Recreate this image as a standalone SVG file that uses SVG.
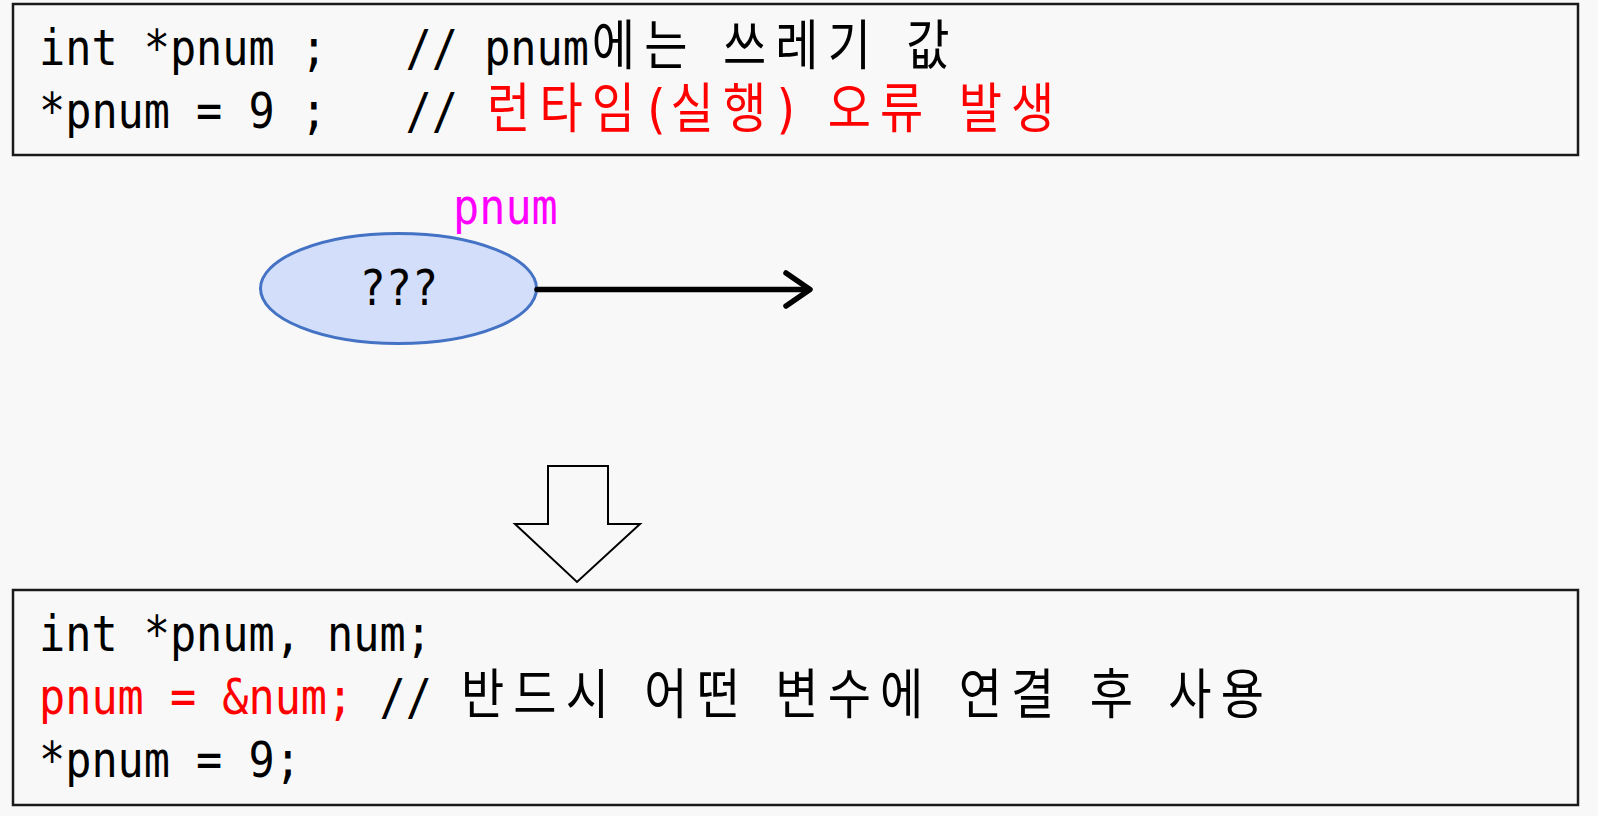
<svg xmlns="http://www.w3.org/2000/svg" width="1598" height="816" viewBox="0 0 1598 816">
<defs>
<style>
.bg{fill:#f8f8f8}
.box{fill:#f8f8f8;stroke:#1a1a1a;stroke-width:2.5}
.mono{font-family:"DejaVu Sans Mono","Liberation Mono",monospace;font-size:50px;fill:#000}
.ko{font-family:"Noto Sans CJK KR","Noto Sans CJK SC",sans-serif;font-size:54px;fill:#000}
.red{fill:#ff0000}
.mag{fill:#ff00ff}
</style>
</defs>
<rect class="bg" x="0" y="0" width="1598" height="816"/>

<g id="top-code">
<rect class="box" x="13" y="4" width="1565" height="151"/>
<text class="mono" transform="scale(0.87 1)" xml:space="preserve"><tspan x="44.83" y="65">int *pnum ;   // pnum</tspan><tspan class="ko" x="680.3 740.6 830.9 891.1 951.4 1041.7" y="65">에는쓰레기값</tspan><tspan x="44.83" y="128">*pnum = 9 ;   // </tspan><tspan class="ko red" x="559.9 620.1 680.3" y="128">런타임</tspan><tspan class="red" x="737.5" y="128" font-size="54">(</tspan><tspan class="ko red" x="770.7 830.9" y="128">실행</tspan><tspan class="red" x="888" y="128" font-size="54">)</tspan><tspan class="ko red" x="951.4 1011.6 1101.9 1162.2" y="128">오류발생</tspan></text>
</g>

<g id="pnum-node">
<text class="mono mag" x="453" y="224" textLength="104.8" lengthAdjust="spacingAndGlyphs">pnum</text>
<ellipse cx="398.5" cy="288.5" rx="138" ry="55" fill="#d3defa" stroke="#4472c4" stroke-width="3"/>
<text class="mono" x="359.5" y="305" font-size="48" textLength="78.6" lengthAdjust="spacingAndGlyphs">???</text>
</g>

<g id="connectors">
<line x1="537" y1="289.5" x2="808" y2="289.5" stroke="#000" stroke-width="5.5" stroke-linecap="round"/>
<polyline points="786,273 810,289.5 786,306" fill="none" stroke="#000" stroke-width="5.5" stroke-linecap="round" stroke-linejoin="round"/>
</g>

<g id="down-arrow">
<polygon points="548,466 608,466 608,524 640,524 577,582 515,524 548,524" fill="#f8f8f8" stroke="#000" stroke-width="2"/>
</g>

<g id="bottom-code">
<rect class="box" x="13" y="590" width="1565" height="215"/>
<text class="mono" transform="scale(0.87 1)" x="44.83" y="651" xml:space="preserve">int *pnum, num;</text>
<text class="mono" transform="scale(0.87 1)" y="714" xml:space="preserve"><tspan class="red" x="44.83">pnum = &amp;num;</tspan><tspan> // </tspan><tspan class="ko" x="529.8 590 650.2 740.6 800.8 891.1 951.4 1011.6 1101.9 1162.2 1252.5 1342.9 1403.1">반드시어떤변수에연결후사용</tspan></text>
<text class="mono" transform="scale(0.87 1)" x="44.83" y="777" xml:space="preserve">*pnum = 9;</text>
</g>
</svg>
